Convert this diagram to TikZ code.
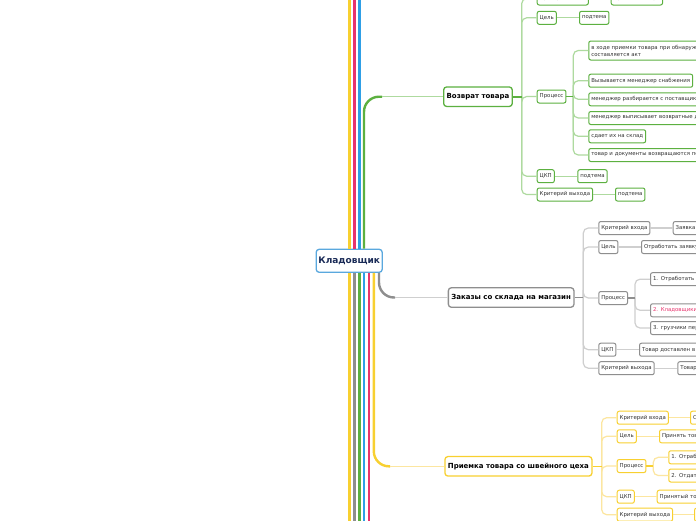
\documentclass[tikz,border=0pt]{standalone}
\usepackage{fontspec}
\setmainfont{DejaVu Sans}
\definecolor{mapgreen}{HTML}{5CB040}
\definecolor{mapgreenl}{HTML}{AEDA9F}
\definecolor{mapgray}{HTML}{8E8E8E}
\definecolor{mapgrayl}{HTML}{CFCFCF}
\definecolor{mapyellow}{HTML}{F8D030}
\definecolor{mapyellowl}{HTML}{FCE6A0}
\definecolor{mapblue}{HTML}{2E9FE6}
\definecolor{rootblue}{HTML}{5AA8DE}
\definecolor{mappink}{HTML}{E8336D}
\definecolor{rootink}{HTML}{1A2B57}

\begin{document}
\begin{tikzpicture}[x=1pt,y=-1pt,
  rootbox/.style={draw=rootblue,line width=1.3pt,rounded corners=3pt,fill=white,
    text=rootink,font=\bfseries\fontsize{9}{10}\selectfont,
    minimum width=66pt,minimum height=23pt,inner sep=0pt},
  topic/.style={draw=#1,line width=1.3pt,rounded corners=3pt,fill=white,anchor=west,
    font=\bfseries\fontsize{7}{8}\selectfont,minimum height=19.5pt,
    inner xsep=3pt,inner ysep=0pt},
  subbox/.style={draw=#1,line width=1pt,rounded corners=2pt,fill=white,anchor=west,
    text=black!80,font=\fontsize{5.4}{7}\selectfont,minimum height=13pt,
    inner xsep=2.5pt,inner ysep=0pt},
  clipped/.style={text width=150pt,align=left},
  rib/.style={draw=#1,line width=2.6pt},
  stem/.style={draw=#1,line width=2.4pt,rounded corners=15pt},
  twig/.style={draw=#1,line width=1.2pt,rounded corners=5pt},
  stub/.style={draw=#1,line width=1.6pt}]
  % canvas of the reference, 1px = 1pt, y grows downwards
  \path[use as bounding box,fill=white] (0,0) rectangle (696,520);

  \node[rootbox] (root) at (349.2,260.8) {Кладовщик};

  % ribbons to branches that lie outside the picture
  \foreach \x/\c [count=\i] in {349.5/mapyellow,354.5/mappink,359.3/mapblue}{
    \coordinate (up\i) at (\x,-6);
    \draw[rib=\c] (root.north -| up\i) -- (up\i);
  }
  \foreach \x/\c [count=\i] in {349.5/mapyellow,354.5/mapgray,359.3/mapgreen,
      364/mapblue,369/mappink}{
    \coordinate (dn\i) at (\x,526);
    \draw[rib=\c] (root.south -| dn\i) -- (dn\i);
  }

  % --- Возврат товара ---
  \node[topic=mapgreen] (ret) at (443,96.7) {Возврат товара};
  \coordinate (retturn) at (364,96.7);
  \coordinate (retend) at (382,96.7);
  \draw[stem=mapgreen] (root.north -| retturn) -- (retturn) -- (retend);
  \draw[twig=mapgreenl] (retend) -- (ret.west);

  \node[subbox=mapgreen] (retin) at (536.7,-1.5) {Критерий входа};
  \node[subbox=mapgreen] (retgoal) at (536.7,17.8) {Цель};
  \node[subbox=mapgreen] (retproc) at (536.7,96.5) {Процесс};
  \node[subbox=mapgreen] (retkpi) at (536.7,176.2) {ЦКП};
  \node[subbox=mapgreen] (retout) at (536.7,194.5) {Критерий выхода};
  \node[subbox=mapgreen] (retinl) at (610.7,-1.5) {Приемка товара};
  \node[subbox=mapgreen] (retgoall) at (579,17.8) {подтема};
  \node[subbox=mapgreen] (retkpil) at (577.3,176.2) {подтема};
  \node[subbox=mapgreen] (retoutl) at (615,194.5) {подтема};

  \node[subbox=mapgreen,clipped,minimum height=19pt] (rets1) at (588.3,50.5)
    {в ходе приемки товара при обнаруж\\составляется акт};
  \node[subbox=mapgreen] (rets2) at (588.3,80.7) {Вызывается менеджер снабжения};
  \node[subbox=mapgreen,clipped] (rets3) at (588.3,99.3) {менеджер разбирается с поставщико};
  \node[subbox=mapgreen,clipped] (rets4) at (588.3,118) {менеджер выписывает возвратные д};
  \node[subbox=mapgreen] (rets5) at (588.3,136.3) {сдает их на склад};
  \node[subbox=mapgreen,clipped] (rets6) at (588.3,155) {товар и документы возвращаются по};

  \coordinate (rettrunk) at (521.7,0);
  \coordinate (retptrunk) at (573.3,0);
  \foreach \n in {retin,retgoal,retproc,retkpi,retout}
    \draw[twig=mapgreenl] (ret.east -| rettrunk) |- (\n.west);
  \draw[stub=mapgreen] (ret.east) -- (ret.east -| rettrunk);
  \foreach \n in {rets1,rets2,rets3,rets4,rets5,rets6}
    \draw[twig=mapgreenl] (retproc.east -| retptrunk) |- (\n.west);
  \draw[stub=mapgreen] (retproc.east) -- (retproc.east -| retptrunk);
  \foreach \a/\b in {retin/retinl,retgoal/retgoall,retkpi/retkpil,retout/retoutl}
    \draw[twig=mapgreenl] (\a.east) -- (\b.west);

  % --- Заказы со склада на магазин ---
  \node[topic=mapgray] (ord) at (447.7,297.5) {Заказы со склада на магазин};
  \coordinate (ordturn) at (379,297.5);
  \coordinate (ordend) at (395,297.5);
  \draw[stem=mapgray] (root.south -| ordturn) -- (ordturn) -- (ordend);
  \draw[twig=mapgrayl] (ordend) -- (ord.west);

  \node[subbox=mapgray] (ordin) at (598.3,228) {Критерий входа};
  \node[subbox=mapgray] (ordgoal) at (598.3,247) {Цель};
  \node[subbox=mapgray] (ordproc) at (598.3,298) {Процесс};
  \node[subbox=mapgray] (ordkpi) at (598.3,349.7) {ЦКП};
  \node[subbox=mapgray] (ordout) at (598.3,368.2) {Критерий выхода};
  \node[subbox=mapgray,clipped] (ordinl) at (672.7,228) {Заявка};
  \node[subbox=mapgray,clipped] (ordgoall) at (641,247) {Отработать заявку};
  \node[subbox=mapgray,clipped] (ordkpil) at (639,349.7) {Товар доставлен в};
  \node[subbox=mapgray,clipped] (ordoutl) at (677.3,368.2) {Товар};

  \node[subbox=mapgray,clipped] (ords1) at (650,279.2) {1. Отработать т};
  \node[subbox=mapgray,clipped,text=mappink] (ords2) at (650,310.3) {2. Кладовщики};
  \node[subbox=mapgray,clipped] (ords3) at (650,328) {3. грузчики пер};

  \coordinate (ordtrunk) at (583.3,0);
  \coordinate (ordptrunk) at (635,0);
  \foreach \n in {ordin,ordgoal,ordproc,ordkpi,ordout}
    \draw[twig=mapgrayl] (ord.east -| ordtrunk) |- (\n.west);
  \draw[stub=mapgray] (ord.east) -- (ord.east -| ordtrunk);
  \foreach \n in {ords1,ords2,ords3}
    \draw[twig=mapgrayl] (ordproc.east -| ordptrunk) |- (\n.west);
  \draw[stub=mapgray] (ordproc.east) -- (ordproc.east -| ordptrunk);
  \foreach \a/\b in {ordin/ordinl,ordgoal/ordgoall,ordkpi/ordkpil,ordout/ordoutl}
    \draw[twig=mapgrayl] (\a.east) -- (\b.west);

  % --- Приемка товара со швейного цеха ---
  \node[topic=mapyellow] (acc) at (444.3,466.3) {Приемка товара со швейного цеха};
  \coordinate (accturn) at (373.8,466.3);
  \coordinate (accend) at (390,466.3);
  \draw[stem=mapyellow] (root.south -| accturn) -- (accturn) -- (accend);
  \draw[twig=mapyellowl] (accend) -- (acc.west);

  \node[subbox=mapyellow] (accin) at (616.7,417.7) {Критерий входа};
  \node[subbox=mapyellow] (accgoal) at (616.7,436.3) {Цель};
  \node[subbox=mapyellow] (accproc) at (616.7,466) {Процесс};
  \node[subbox=mapyellow] (acckpi) at (616.7,496.7) {ЦКП};
  \node[subbox=mapyellow] (accout) at (616.7,514.7) {Критерий выхода};
  \node[subbox=mapyellow,clipped] (accinl) at (690,417.7) {С};
  \node[subbox=mapyellow,clipped] (accgoall) at (659,436.3) {Принять тов};
  \node[subbox=mapyellow,clipped] (acckpil) at (656.7,496.7) {Принятый то};
  \node[subbox=mapyellow,clipped] (accoutl) at (694,514.7) {};

  \node[subbox=mapyellow,clipped] (accs1) at (668.3,457.3) {1. Отраб};
  \node[subbox=mapyellow,clipped] (accs2) at (668.3,475.5) {2. Отдат};

  \coordinate (acctrunk) at (601.7,0);
  \coordinate (accptrunk) at (653.3,0);
  \foreach \n in {accin,accgoal,accproc,acckpi,accout}
    \draw[twig=mapyellowl] (acc.east -| acctrunk) |- (\n.west);
  \draw[stub=mapyellow] (acc.east) -- (acc.east -| acctrunk);
  \foreach \n in {accs1,accs2}
    \draw[twig=mapyellowl] (accproc.east -| accptrunk) |- (\n.west);
  \draw[stub=mapyellow] (accproc.east) -- (accproc.east -| accptrunk);
  \foreach \a/\b in {accin/accinl,accgoal/accgoall,acckpi/acckpil,accout/accoutl}
    \draw[twig=mapyellowl] (\a.east) -- (\b.west);
\end{tikzpicture}
\end{document}
